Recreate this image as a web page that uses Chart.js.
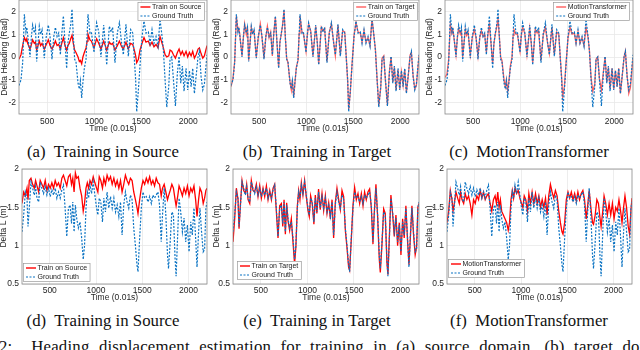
<!DOCTYPE html>
<html>
<head>
<meta charset="utf-8">
<script src="https://cdn.jsdelivr.net/npm/chart.js@4.4.0/dist/chart.umd.min.js"></script>
<style>
  html, body { margin: 0; padding: 0; background: #fff; }
  body { width: 640px; height: 350px; position: relative; overflow: hidden; }
  .cap {
    position: absolute;
    font-family: "Liberation Serif", "Times New Roman", serif;
    font-size: 16.8px;
    line-height: 1;
    white-space: pre;
    color: #111;
    transform: translateX(-50%);
  }
  .note {
    position: absolute;
    left: -1px;
    top: 339px;
    font-family: "Liberation Serif", "Times New Roman", serif;
    font-size: 16.8px;
    line-height: 1;
    white-space: pre;
    word-spacing: 5px;
    letter-spacing: 0.2px;
    color: #111;
  }
</style>
</head>
<body>
<div class="note">2:  Heading displacement estimation for training in (a) source domain, (b) target domain</div>
<script>
// ---- delta heading (rad), top row ----
const hTime = [
  200, 221, 239, 257, 274, 283, 292, 317, 332, 345,
  363, 375, 388, 416, 430, 445, 469, 490, 512, 530,
  551, 570, 587, 605, 622, 640, 655, 672, 690, 707,
  720, 735, 750, 764, 778, 792, 806, 828, 842, 853,
  867, 880, 895, 913, 925, 934, 955, 970, 998, 1012,
  1026, 1048, 1072, 1101, 1118, 1133, 1161, 1180, 1196, 1221,
  1246, 1268, 1292, 1310, 1338, 1363, 1388, 1410, 1427, 1441,
  1452, 1470, 1487, 1509, 1530, 1551, 1576, 1594, 1615, 1636,
  1658, 1679, 1700, 1722, 1736, 1754, 1772, 1793, 1807, 1825,
  1843, 1864, 1885, 1903, 1921, 1938, 1956, 1977, 1995, 2013,
  2031, 2048, 2066, 2084, 2105, 2119, 2137, 2155, 2172, 2200
];
const hTruth = [
  -1.25, -1.0, -0.25, 1.87, 1.1, 1.3, 1.0, 0.0, 0.9, 1.4,
  1.05, 1.3, -0.2, 1.35, 1.0, 1.2, -0.05, 0.9, 1.4, 0.9,
  -0.1, 0.9, 1.3, 0.9, 1.05, 0.1, 1.0, 1.8, 0.6, -0.5,
  0.6, 1.05, 1.4, 2.1, 0.9, -0.1, -0.2, -1.15, -1.4, -1.05,
  -1.8, -1.1, -0.5, -0.1, 1.0, 1.87, 1.05, 1.1, 0.2, 1.0,
  1.5, 1.1, 0.0, 1.4, 0.6, -0.35, 1.35, 1.1, 1.3, -0.25,
  1.05, 1.5, 0.6, 0.1, 1.43, 0.03, 1.2, 1.05, -0.1, -1.0,
  -2.4, -1.45, -0.4, 0.9, 1.57, 1.05, 1.1, 0.6, 1.2, 0.6,
  0.9, 0.47, 1.65, 0.9, 0.3, -1.0, -2.2, -1.3, -0.1, 0.0,
  -1.0, -2.15, -0.7, 0.03, -1.15, -0.4, -1.5, -0.5, -1.45, -0.6,
  -1.3, -0.5, -1.6, -0.85, 0.03, 0.25, -0.85, -1.45, -1.2, 0.1
];
const hSource = [
  -0.1, 0.1, 0.5, 0.85, 0.7, 0.8, 0.6, 0.35, 0.55, 0.75,
  0.6, 0.65, 0.3, 0.7, 0.5, 0.6, 0.35, 0.55, 0.75, 0.5,
  0.35, 0.5, 0.7, 0.5, 0.55, 0.35, 0.6, 0.85, 0.5, 0.3,
  0.5, 0.6, 0.8, 0.95, 0.6, 0.3, 0.2, 0.0, -0.2, -0.15,
  -0.3, 0.0, 0.2, 0.4, 0.7, 1.0, 0.75, 0.7, 0.4, 0.6,
  0.8, 0.6, 0.35, 0.7, 0.5, 0.3, 0.65, 0.55, 0.6, 0.3,
  0.5, 0.7, 0.45, 0.35, 0.65, 0.35, 0.6, 0.55, 0.3, 0.05,
  -0.25, -0.1, 0.3, 0.6, 0.85, 0.65, 0.7, 0.5, 0.65, 0.45,
  0.55, 0.4, 0.9, 0.6, 0.4, 0.1, 0.0, 0.05, 0.3, 0.25,
  0.1, -0.05, 0.2, 0.35, 0.1, 0.25, 0.05, 0.25, 0.0, 0.2,
  0.05, 0.25, -0.05, 0.1, 0.35, 0.4, 0.15, -0.05, 0.05, 0.5
];
const hTarget = [
  -1.3, -0.95, -0.2, 1.8, 1.15, 1.25, 1.05, 0.05, 0.85, 1.45,
  1.0, 1.35, -0.15, 1.3, 1.05, 1.15, 0.0, 0.85, 1.45, 0.85,
  -0.05, 0.85, 1.35, 0.85, 1.1, 0.05, 1.05, 1.75, 0.55, -0.45,
  0.65, 1.0, 1.45, 2.05, 0.85, -0.05, -0.25, -1.1, -1.45, -1.0,
  -1.75, -1.15, -0.45, -0.15, 1.05, 1.8, 1.1, 1.05, 0.25, 0.95,
  1.45, 1.15, 0.05, 1.35, 0.65, -0.3, 1.3, 1.15, 1.25, -0.2,
  1.1, 1.45, 0.65, 0.05, 1.4, 0.08, 1.15, 1.1, -0.05, -1.05,
  -2.3, -1.5, -0.35, 0.95, 1.52, 1.1, 1.05, 0.65, 1.15, 0.65,
  0.85, 0.5, 1.7, 0.85, 0.35, -0.95, -2.15, -1.35, -0.05, 0.05,
  -1.05, -2.1, -0.65, 0.0, -1.1, -0.45, -1.45, -0.55, -1.4, -0.65,
  -1.25, -0.55, -1.55, -0.9, 0.08, 0.2, -0.8, -1.4, -1.25, 0.05
];
const hMotion = [
  -0.9, -0.75, -0.1, 1.4, 1.05, 1.2, 0.95, 0.1, 0.85, 1.25,
  1.0, 1.15, 0.0, 1.2, 0.95, 1.1, 0.1, 0.85, 1.2, 0.85,
  0.05, 0.85, 1.15, 0.9, 1.0, 0.2, 0.95, 1.4, 0.6, -0.3,
  0.55, 1.0, 1.3, 1.65, 0.9, 0.0, -0.15, -1.0, -1.3, -1.0,
  -1.5, -1.05, -0.4, 0.0, 0.95, 1.2, 1.0, 1.0, 0.25, 0.95,
  1.3, 1.05, 0.1, 1.25, 0.6, -0.25, 1.2, 1.05, 1.15, -0.15,
  1.0, 1.3, 0.6, 0.15, 1.3, 0.1, 1.1, 1.0, -0.05, -0.9,
  -1.75, -1.3, -0.3, 0.85, 1.3, 1.0, 1.05, 0.6, 1.1, 0.6,
  0.85, 0.5, 1.3, 0.85, 0.3, -0.9, -1.5, -1.2, -0.1, 0.0,
  -0.95, -1.45, -0.65, 0.0, -1.1, -0.45, -1.4, -0.5, -1.4, -0.6,
  -1.3, -0.5, -1.6, -0.9, 0.0, 0.25, -0.8, -1.6, -1.35, -0.05
];

// ---- delta L (m), bottom row ----
const lTime = [
  200, 218, 236, 254, 265, 279, 297, 315, 333, 347,
  362, 380, 397, 415, 433, 451, 469, 487, 505, 523,
  541, 559, 577, 595, 613, 631, 648, 666, 684, 702,
  720, 735, 749, 763, 777, 791, 809, 827, 845, 862,
  876, 892, 906, 920, 935, 952, 970, 988, 1006, 1020,
  1035, 1052, 1070, 1085, 1102, 1120, 1138, 1157, 1175, 1193,
  1211, 1229, 1247, 1265, 1282, 1300, 1318, 1336, 1354, 1372,
  1390, 1408, 1426, 1443, 1454, 1472, 1490, 1508, 1526, 1544,
  1562, 1580, 1598, 1615, 1633, 1651, 1669, 1687, 1705, 1719,
  1737, 1755, 1773, 1784, 1802, 1820, 1837, 1855, 1866, 1884,
  1898, 1916, 1934, 1952, 1970, 1988, 2006, 2024, 2041, 2059,
  2077, 2092, 2109, 2124, 2141, 2159, 2174, 2188, 2200
];
const lTruth = [
  1.18, 1.4, 1.7, 1.62, 1.25, 1.49, 1.83, 1.75, 1.66, 1.77,
  1.62, 1.57, 1.83, 1.75, 1.68, 1.77, 1.66, 1.75, 1.64, 1.73,
  1.66, 1.75, 1.62, 1.7, 1.62, 1.73, 1.79, 1.49, 1.12, 1.49,
  1.53, 1.29, 1.57, 1.18, 1.53, 1.36, 1.23, 1.31, 1.1, 0.82,
  1.0, 1.49, 1.7, 1.62, 1.79, 1.68, 1.83, 1.66, 1.49, 1.4,
  1.62, 1.57, 1.31, 1.62, 1.44, 1.7, 1.49, 1.64, 1.49, 1.62,
  1.44, 1.53, 1.38, 1.57, 1.14, 1.53, 1.7, 1.57, 1.49, 1.66,
  1.6, 1.23, 1.0, 0.75, 0.66, 1.1, 1.49, 1.7, 1.62, 1.64,
  1.57, 1.64, 1.55, 1.66, 1.62, 1.66, 1.7, 1.53, 1.05, 1.4,
  1.75, 1.4, 0.88, 0.7, 1.05, 1.44, 1.4, 0.83, 0.6, 1.18,
  1.62, 1.44, 1.18, 1.36, 1.05, 1.27, 0.92, 1.31, 1.14, 1.49,
  1.1, 0.72, 1.18, 1.49, 1.18, 0.92, 0.95, 1.49, 1.57
];
const lSource = [
  1.55, 1.7, 1.65, 1.75, 1.6, 1.85, 1.88, 1.8, 1.75, 1.85,
  1.78, 1.7, 1.85, 1.8, 1.75, 1.85, 1.72, 1.8, 1.75, 1.82,
  1.75, 1.85, 1.78, 1.82, 1.75, 1.88, 1.92, 1.85, 1.78, 1.9,
  1.93, 1.8, 1.88, 1.7, 1.95, 1.88, 1.9, 1.75, 1.65, 1.45,
  1.55, 1.75, 1.82, 1.75, 1.85, 1.8, 1.9, 1.82, 1.75, 1.7,
  1.9, 1.85, 1.75, 1.88, 1.8, 1.92, 1.85, 1.9, 1.8, 1.88,
  1.78, 1.85, 1.75, 1.85, 1.7, 1.8, 1.92, 1.85, 1.8, 1.88,
  1.85, 1.7, 1.6, 1.5, 1.42, 1.6, 1.75, 1.85, 1.8, 1.88,
  1.82, 1.9, 1.8, 1.85, 1.78, 1.88, 1.82, 1.8, 1.65, 1.75,
  1.8, 1.7, 1.6, 1.65, 1.72, 1.8, 1.75, 1.6, 1.52, 1.65,
  1.78, 1.72, 1.65, 1.75, 1.68, 1.78, 1.65, 1.75, 1.7, 1.78,
  1.6, 1.38, 1.6, 1.75, 1.7, 1.55, 1.62, 1.72, 1.75
];
const lTarget = [
  1.05, 1.35, 1.75, 1.6, 1.22, 1.52, 1.85, 1.72, 1.68, 1.8,
  1.6, 1.55, 1.85, 1.72, 1.7, 1.8, 1.64, 1.78, 1.62, 1.75,
  1.64, 1.78, 1.6, 1.72, 1.6, 1.75, 1.8, 1.45, 1.1, 1.52,
  1.55, 1.25, 1.6, 1.15, 1.56, 1.33, 1.2, 1.35, 1.05, 0.76,
  0.98, 1.52, 1.72, 1.6, 1.82, 1.66, 1.85, 1.64, 1.46, 1.38,
  1.65, 1.55, 1.28, 1.66, 1.42, 1.74, 1.47, 1.68, 1.46, 1.65,
  1.42, 1.56, 1.35, 1.6, 1.1, 1.56, 1.75, 1.6, 1.47, 1.72,
  1.64, 1.2, 0.97, 0.72, 0.68, 1.08, 1.52, 1.76, 1.6, 1.68,
  1.55, 1.68, 1.52, 1.7, 1.6, 1.7, 1.74, 1.5, 1.02, 1.43,
  1.8, 1.38, 0.82, 0.65, 1.02, 1.48, 1.42, 0.78, 0.62, 1.2,
  1.66, 1.42, 1.12, 1.4, 1.0, 1.3, 0.88, 1.35, 1.1, 1.52,
  1.06, 0.75, 1.15, 1.52, 1.15, 0.88, 0.98, 1.5, 1.55
];
const lMotion = [
  1.3, 1.45, 1.72, 1.6, 1.45, 1.55, 1.7, 1.62, 1.55, 1.7,
  1.6, 1.55, 1.68, 1.6, 1.65, 1.55, 1.4, 1.6, 1.55, 1.65,
  1.6, 1.72, 1.62, 1.7, 1.6, 1.65, 1.68, 1.55, 1.45, 1.6,
  1.65, 1.55, 1.7, 1.5, 1.6, 1.45, 1.4, 1.35, 1.3, 1.2,
  1.3, 1.6, 1.72, 1.62, 1.75, 1.68, 1.72, 1.62, 1.55, 1.5,
  1.65, 1.6, 1.45, 1.68, 1.55, 1.7, 1.55, 1.68, 1.55, 1.65,
  1.5, 1.6, 1.5, 1.62, 1.4, 1.65, 1.8, 1.7, 1.62, 1.72,
  1.65, 1.45, 1.3, 1.18, 1.15, 1.3, 1.6, 1.7, 1.62, 1.7,
  1.6, 1.68, 1.58, 1.7, 1.6, 1.68, 1.72, 1.6, 1.35, 1.5,
  1.72, 1.5, 1.3, 1.28, 1.4, 1.6, 1.55, 1.35, 1.25, 1.45,
  1.65, 1.55, 1.4, 1.55, 1.4, 1.55, 1.35, 1.5, 1.45, 1.6,
  1.45, 1.3, 1.5, 1.65, 1.5, 1.25, 1.15, 1.45, 1.62
];

const timeTicks = [500, 1000, 1500, 2000];
const headingTicks = [-2, -1, 0, 1, 2];
const lengthTicks = [0.5, 1, 1.5, 2];

const SANS = '"Liberation Sans", Arial, sans-serif';
const BLUE = 'rgb(10,115,195)';

const panels = [
  { x0: 19, x1: 207, y0: 0, y1: 114, yW: 19, time: hTime, truth: hTruth, pred: hSource,
    name: 'Train on Source', red: 'rgb(255,0,0)', yMin: -2.5, yMax: 2.5, yTicks: headingTicks,
    yTitle: 'Delta Heading (Rad)', corner: 'tr', inset: [2, 2], cap: '(a)  Training in Source', capX: 103 },
  { x0: 231, x1: 419, y0: 0, y1: 114, yW: 19, time: hTime, truth: hTruth, pred: hTarget,
    name: 'Train on Target', red: 'rgba(255,40,40,0.75)', yMin: -2.5, yMax: 2.5, yTicks: headingTicks,
    yTitle: 'Delta Heading (Rad)', corner: 'tr', inset: [1, 2], cap: '(b)  Training in Target', capX: 317 },
  { x0: 445, x1: 633, y0: 0, y1: 114, yW: 20, time: hTime, truth: hTruth, pred: hMotion,
    name: 'MotionTransformer', red: 'rgba(255,40,40,0.75)', yMin: -2.5, yMax: 2.5, yTicks: headingTicks,
    yTitle: 'Delta Heading (Rad)', corner: 'tr', inset: [3, 2], cap: '(c)  MotionTransformer', capX: 529 },
  { x0: 22, x1: 207, y0: 169, y1: 284, yW: 23, time: lTime, truth: lTruth, pred: lSource,
    name: 'Train on Source', red: 'rgb(255,0,0)', yMin: 0.5, yMax: 2, yTicks: lengthTicks,
    yTitle: 'Delta L (m)', corner: 'bl', inset: [1, 2], cap: '(d)  Training in Source', capX: 103 },
  { x0: 233, x1: 419, y0: 169, y1: 284, yW: 21, time: lTime, truth: lTruth, pred: lTarget,
    name: 'Train on Target', red: 'rgb(255,0,0)', yMin: 0.5, yMax: 2, yTicks: lengthTicks,
    yTitle: 'Delta L (m)', corner: 'bl', inset: [4, 4], cap: '(e)  Training in Target', capX: 317 },
  { x0: 447, x1: 632, y0: 169, y1: 284, yW: 22, time: lTime, truth: lTruth, pred: lMotion,
    name: 'MotionTransformer', red: 'rgb(255,0,0)', yMin: 0.5, yMax: 2, yTicks: lengthTicks,
    yTitle: 'Delta L (m)', corner: 'bl', inset: [1, 6], cap: '(f)  MotionTransformer', capX: 529 }
];

// box round the axes and a MATLAB-style legend inside the plot
const boxLegend = {
  id: 'boxLegend',
  afterDraw(chart, args, opts) {
    const ctx = chart.ctx;
    const a = chart.chartArea;
    ctx.save();
    ctx.strokeStyle = '#8a8a8a';
    ctx.lineWidth = 0.8;
    ctx.strokeRect(a.left, a.top, a.right - a.left, a.bottom - a.top);

    ctx.font = '7px ' + SANS;
    const tw = Math.max(...opts.items.map(it => ctx.measureText(it.text).width));
    const w = tw + 18, h = 19;
    const x = opts.corner === 'tr' ? a.right - opts.inset[0] - w : a.left + opts.inset[0];
    const y = opts.corner === 'tr' ? a.top + opts.inset[1] : a.bottom - opts.inset[1] - h;
    ctx.fillStyle = '#fff';
    ctx.fillRect(x, y, w, h);
    ctx.strokeStyle = '#9a9a9a';
    ctx.lineWidth = 0.7;
    ctx.strokeRect(x + 0.5, y + 0.5, w - 1, h - 1);
    opts.items.forEach((it, i) => {
      const cy = y + 5 + i * 9;
      ctx.strokeStyle = it.color;
      ctx.lineWidth = it.width;
      ctx.setLineDash(it.dash);
      ctx.beginPath();
      ctx.moveTo(x + 3, cy);
      ctx.lineTo(x + 13, cy);
      ctx.stroke();
      ctx.setLineDash([]);
      ctx.fillStyle = '#222';
      ctx.textBaseline = 'middle';
      ctx.fillText(it.text, x + 14.5, cy);
    });
    ctx.restore();
  }
};

function points(times, vals) {
  return times.map((t, i) => ({ x: t, y: vals[i] }));
}

function makePanel(p) {
  const top = p.y0 === 0;
  const padTop = top ? 0 : 6;
  const padRight = 5;
  const xH = top ? 20 : 19;
  const w = p.x1 - p.x0 + p.yW + padRight;
  const h = p.y1 - p.y0 + padTop + xH;

  const canvas = document.createElement('canvas');
  canvas.width = w;
  canvas.height = h;
  canvas.style.cssText = 'position:absolute;left:' + (p.x0 - p.yW) + 'px;top:' + (p.y0 - padTop) +
    'px;width:' + w + 'px;height:' + h + 'px';
  document.body.appendChild(canvas);

  const dash = [2, 1.5];
  new Chart(canvas, {
    type: 'line',
    data: {
      datasets: [
        {
          label: p.name,
          data: points(p.time, p.pred),
          borderColor: p.red,
          borderWidth: 1.3,
          pointRadius: 0,
          tension: 0,
          order: 2
        },
        {
          label: 'Ground Truth',
          data: points(p.time, p.truth),
          borderColor: BLUE,
          borderWidth: 1.2,
          borderDash: dash,
          pointRadius: 0,
          tension: 0,
          order: 1
        }
      ]
    },
    options: {
      responsive: false,
      animation: false,
      events: [],
      layout: { padding: { top: padTop, right: padRight, left: 0, bottom: 0 } },
      plugins: {
        legend: { display: false },
        tooltip: { enabled: false },
        boxLegend: {
          corner: p.corner,
          inset: p.inset,
          items: [
            { text: p.name, color: p.red, width: 1.4, dash: [] },
            { text: 'Ground Truth', color: BLUE, width: 1.2, dash: dash }
          ]
        }
      },
      scales: {
        x: {
          type: 'linear',
          min: 200,
          max: 2200,
          afterBuildTicks: s => { s.ticks = timeTicks.map(v => ({ value: v })); },
          afterFit: s => { s.height = xH; s.paddingLeft = 0; s.paddingRight = 0; },
          grid: { color: '#e8e8e8', lineWidth: 0.8, drawTicks: false },
          border: { display: false },
          ticks: {
            font: { family: SANS, size: 8.5 }, color: '#262626', padding: top ? 2.5 : 1.5,
            maxRotation: 0, autoSkip: false, callback: v => String(v)
          },
          title: { display: true, text: 'Time (0.01s)', color: '#262626', font: { family: SANS, size: 8.5 }, padding: 0 }
        },
        y: {
          min: p.yMin,
          max: p.yMax,
          afterBuildTicks: s => { s.ticks = p.yTicks.map(v => ({ value: v })); },
          afterFit: s => { s.width = p.yW; s.paddingTop = 0; s.paddingBottom = 0; },
          grid: { color: '#e8e8e8', lineWidth: 0.8, drawTicks: false },
          border: { display: false },
          ticks: { font: { family: SANS, size: 8.5 }, color: '#262626', padding: 3, autoSkip: false, callback: v => String(v) },
          title: { display: true, text: p.yTitle, color: '#262626', font: { family: SANS, size: 8.5 }, padding: 0 }
        }
      }
    },
    plugins: [boxLegend]
  });

  const cap = document.createElement('div');
  cap.className = 'cap';
  cap.textContent = p.cap;
  cap.style.left = p.capX + 'px';
  cap.style.top = (top ? 143.5 : 312.5) + 'px';
  document.body.appendChild(cap);
}

panels.forEach(makePanel);
</script>
</body>
</html>
